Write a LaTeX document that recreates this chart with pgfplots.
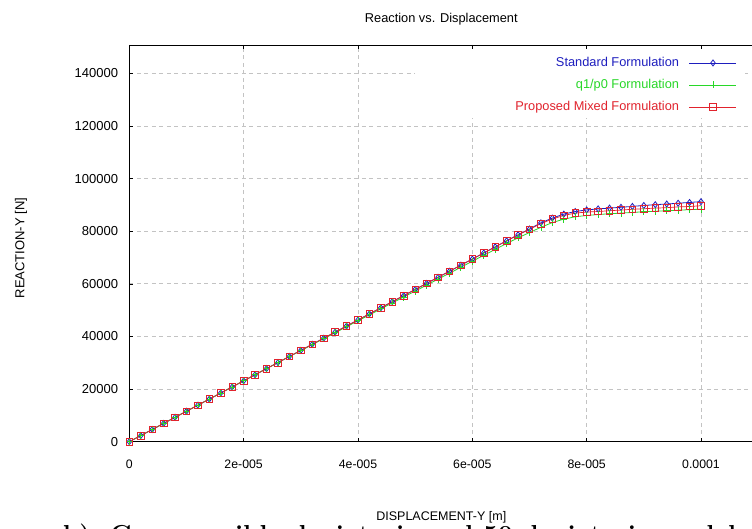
\documentclass[border=0pt]{standalone}
\usepackage{fontspec}
\setsansfont{Liberation Sans}
\usepackage{pgfplots}
\usepackage{pgfplotstable}
\pgfplotsset{compat=1.18}
\definecolor{stdblue}{RGB}{30,30,190}
\definecolor{qgreen}{RGB}{40,215,40}
\definecolor{pred}{RGB}{225,35,45}
\definecolor{gridgray}{RGB}{195,195,195}

\pgfplotstableread{
x y
0 0
2e-6 2314
4e-6 4628
6e-6 6942
8e-6 9256
10e-6 11570
12e-6 13884
14e-6 16198
16e-6 18512
18e-6 20826
20e-6 23140
22e-6 25454
24e-6 27768
26e-6 30082
28e-6 32396
30e-6 34710
32e-6 37024
34e-6 39338
36e-6 41652
38e-6 43966
40e-6 46280
42e-6 48594
44e-6 50908
46e-6 53222
48e-6 55536
50e-6 57850
52e-6 60164
54e-6 62478
56e-6 64792
58e-6 67106
60e-6 69420
62e-6 71734
64e-6 74048
66e-6 76362
68e-6 78650
70e-6 80850
72e-6 83200
74e-6 85000
76e-6 86500
78e-6 87500
80e-6 88100
82e-6 88500
84e-6 88800
86e-6 89100
88e-6 89450
90e-6 89800
92e-6 90100
94e-6 90350
96e-6 90650
98e-6 90950
100e-6 91250
}\tstd

\pgfplotstableread{
x y
0 0
2e-6 2314
4e-6 4628
6e-6 6942
8e-6 9256
10e-6 11570
12e-6 13884
14e-6 16198
16e-6 18512
18e-6 20826
20e-6 23140
22e-6 25454
24e-6 27768
26e-6 30082
28e-6 32396
30e-6 34600
32e-6 36900
34e-6 39150
36e-6 41400
38e-6 43700
40e-6 45950
42e-6 48200
44e-6 50500
46e-6 52750
48e-6 55000
50e-6 57250
52e-6 59500
54e-6 61800
56e-6 64050
58e-6 66300
60e-6 68600
62e-6 70850
64e-6 73100
66e-6 75350
68e-6 77500
70e-6 79500
72e-6 81500
74e-6 83300
76e-6 84600
78e-6 85500
80e-6 86000
82e-6 86350
84e-6 86650
86e-6 86900
88e-6 87150
90e-6 87400
92e-6 87600
94e-6 87800
96e-6 88000
98e-6 88200
100e-6 88400
}\tq

\pgfplotstableread{
x y
0 0
2e-6 2314
4e-6 4628
6e-6 6942
8e-6 9256
10e-6 11570
12e-6 13884
14e-6 16198
16e-6 18512
18e-6 20826
20e-6 23140
22e-6 25454
24e-6 27768
26e-6 30082
28e-6 32396
30e-6 34710
32e-6 37024
34e-6 39338
36e-6 41652
38e-6 43966
40e-6 46280
42e-6 48594
44e-6 50908
46e-6 53222
48e-6 55536
50e-6 57850
52e-6 60164
54e-6 62478
56e-6 64792
58e-6 67106
60e-6 69420
62e-6 71734
64e-6 74048
66e-6 76362
68e-6 78600
70e-6 80750
72e-6 82900
74e-6 84650
76e-6 86000
78e-6 86900
80e-6 87300
82e-6 87500
84e-6 87800
86e-6 88050
88e-6 88350
90e-6 88550
92e-6 88800
94e-6 88950
96e-6 89250
98e-6 89400
100e-6 89700
}\tmix

\begin{document}
\begin{tikzpicture}[font=\sffamily]
\path[use as bounding box] (-129.3pt,-87.3pt) rectangle (622.7pt,441.7pt);
\begin{axis}[
  scale only axis, width=624pt, height=396.7pt,
  xmin=0, xmax=1.09148e-4, ymin=0, ymax=150800,
  scaled x ticks=false, scaled y ticks=false,
  xtick={0,2e-5,4e-5,6e-5,8e-5,1e-4},
  xticklabels={0,2e-005,4e-005,6e-005,8e-005,0.0001},
  ytick={0,20000,40000,60000,80000,100000,120000,140000},
  yticklabels={0,20000,40000,60000,80000,100000,120000,140000},
  ytick pos=left, xtick pos=both,
  tick align=inside, major tick length=4pt,
  tick style={black, line width=0.6pt},
  grid=major,
  major grid style={gridgray, dash pattern=on 4pt off 3.5pt, line width=0.9pt},
  axis line style={black, line width=0.8pt},
  xticklabel style={font=\sffamily\fontsize{12.3}{14}\selectfont, anchor=north, inner sep=0pt, yshift=-18.3pt},
  yticklabel style={font=\sffamily\fontsize{13}{15}\selectfont, anchor=east, inner sep=0pt, xshift=-11pt},
  every axis title shift=0pt,
  title={Reaction vs. Displacement},
  title style={at={(axis description cs:0.5,1.0655)}, anchor=center, font=\sffamily\fontsize{12.8}{15}\selectfont},
  xlabel={DISPLACEMENT-Y [m]},
  xlabel style={at={(axis description cs:0.5,0)}, anchor=center, yshift=-76pt, font=\sffamily\fontsize{12.5}{15}\selectfont},
  ylabel={REACTION-Y [N]},
  ylabel style={at={(axis description cs:-0.1736,0.488)}, anchor=center, rotate=0, font=\sffamily\fontsize{13}{15}\selectfont},
  legend cell align=right, legend plot pos=right,
  legend style={at={(axis description cs:0.974,0.971)}, anchor=north east, draw=none, fill=none, inner sep=0pt,
    font=\sffamily\fontsize{12.8}{15}\selectfont,
    nodes={inner sep=0pt, text height=9.5pt, text depth=3pt},
    row sep=9.5pt, column sep=10pt},
  legend image code/.code={\draw[mark repeat=2,mark phase=2,#1] plot coordinates {(0pt,0pt) (23.5pt,0pt) (47pt,0pt)};},
]
\fill[white] (rel axis cs:0.458,0.816) rectangle (rel axis cs:0.9865,0.9887);
\addplot[stdblue, line width=0.8pt, mark=diamond, mark size=3pt, mark options={solid}] table {\tstd};
\addlegendentry{\textcolor{stdblue}{Standard Formulation}}
\addplot[qgreen, line width=0.8pt, mark=+, mark size=3.5pt, mark options={solid}] table {\tq};
\addlegendentry{\textcolor{qgreen}{q1/p0 Formulation}}
\addplot[pred, line width=0.7pt, mark=square, mark size=3.3pt, mark options={solid}] table {\tmix};
\addlegendentry{\textcolor{pred}{Proposed Mixed Formulation}}
\end{axis}
\node[anchor=base west, font=\rmfamily\bfseries\fontsize{26}{30}\selectfont, inner sep=0pt] at (-66.3pt,-102pt) {b)\ \ Compressible deviatoric and 50 deviatoric model};
\end{tikzpicture}
\end{document}
